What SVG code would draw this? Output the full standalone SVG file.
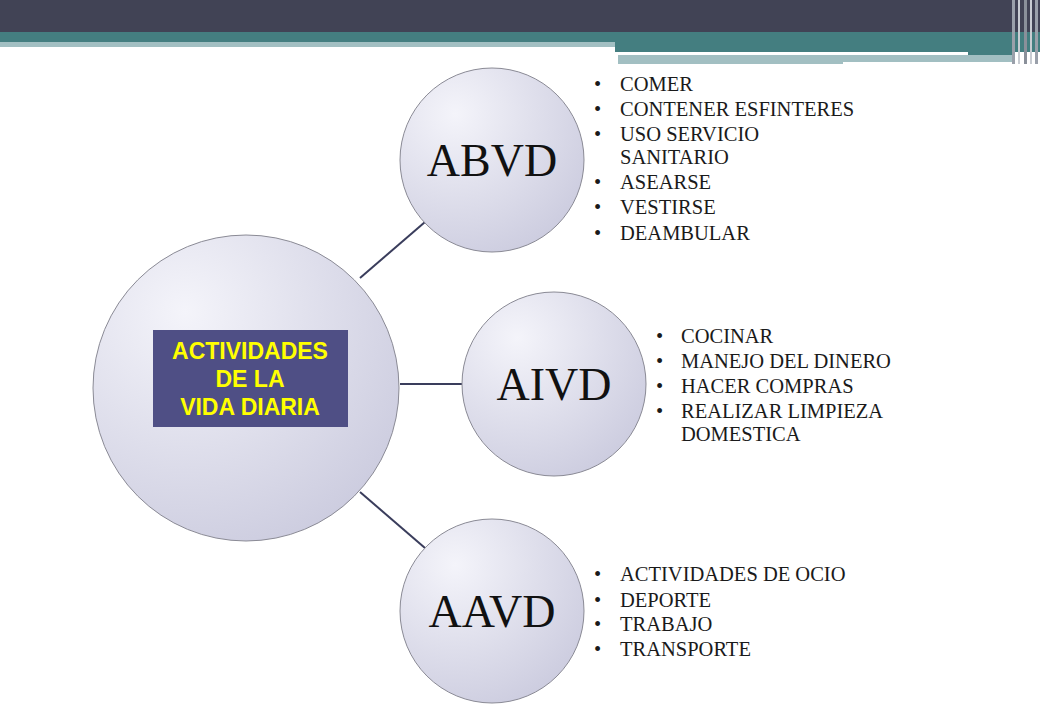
<svg xmlns="http://www.w3.org/2000/svg" width="1040" height="720" viewBox="0 0 1040 720">
<style>
.li{font-family:"Liberation Serif",serif;font-size:20.5px;fill:#1a1a1a}
.big{font-family:"Liberation Serif",serif;font-size:46px;fill:#111;text-anchor:middle}
.c{fill:url(#g);stroke:#8a8a95;stroke-width:1}
.con line{stroke:#3a3d5c;stroke-width:2}
</style>
<defs>
<radialGradient id="g" cx="0.3" cy="0.25" r="0.9">
<stop offset="0" stop-color="#f4f4fa"/><stop offset="1" stop-color="#c9c9dd"/>
</radialGradient>
</defs>
<rect width="1040" height="720" fill="#fff"/>
<g id="banner">
<rect x="0" y="0" width="1040" height="32" fill="#414355"/>
<rect x="0" y="32" width="1040" height="10" fill="#447e80"/>
<rect x="0" y="42" width="615" height="5" fill="#a2bfc2"/>
<rect x="615" y="42" width="425" height="10" fill="#447e80"/>
<rect x="618" y="52" width="350" height="3" fill="#fff"/>
<rect x="968" y="52" width="45" height="3" fill="#447e80"/>
<rect x="618" y="55" width="395" height="7" fill="#a2bfc2"/>
<rect x="618" y="62" width="225" height="2" fill="#a2bfc2"/>
<rect x="1012" y="0" width="3" height="64" fill="#9aa0aa"/>
<rect x="1018" y="0" width="2" height="64" fill="#c8ccd2"/>
<rect x="1024" y="0" width="3" height="64" fill="#8a909a"/>
<rect x="1030" y="0" width="2" height="64" fill="#c8ccd2"/>
<rect x="1035" y="0" width="3" height="64" fill="#9aa0aa"/>
</g>
<g class="con" id="connectors">
<line x1="360" y1="278" x2="425" y2="222"/>
<line x1="400" y1="384" x2="462" y2="384"/>
<line x1="360" y1="492" x2="425" y2="548"/>
</g>
<g id="center">
<circle class="c" cx="246" cy="388" r="153"/>
<rect x="153" y="330" width="195" height="97" fill="#4f4f85"/>
<text font-family="Liberation Sans,Arial,sans-serif" font-weight="bold" font-size="23" fill="#ffff00" text-anchor="middle"><tspan x="250" y="359">ACTIVIDADES</tspan><tspan x="250" y="387">DE LA</tspan><tspan x="250" y="415">VIDA DIARIA</tspan></text>
</g>
<g id="abvd">
<circle class="c" cx="492" cy="160" r="92"/>
<text class="big" x="492" y="176">ABVD</text>
<text class="li"><tspan x="594" y="91">•</tspan><tspan x="620" y="91">COMER</tspan><tspan x="594" y="116">•</tspan><tspan x="620" y="116">CONTENER ESFINTERES</tspan><tspan x="594" y="141">•</tspan><tspan x="620" y="141">USO SERVICIO</tspan><tspan x="620" y="164">SANITARIO</tspan><tspan x="594" y="189">•</tspan><tspan x="620" y="189">ASEARSE</tspan><tspan x="594" y="214">•</tspan><tspan x="620" y="214">VESTIRSE</tspan><tspan x="594" y="240">•</tspan><tspan x="620" y="240">DEAMBULAR</tspan></text>
</g>
<g id="aivd">
<circle class="c" cx="554" cy="384" r="92"/>
<text class="big" x="554" y="400">AIVD</text>
<text class="li"><tspan x="656" y="343">•</tspan><tspan x="681" y="343">COCINAR</tspan><tspan x="656" y="368">•</tspan><tspan x="681" y="368">MANEJO DEL DINERO</tspan><tspan x="656" y="393">•</tspan><tspan x="681" y="393">HACER COMPRAS</tspan><tspan x="656" y="418">•</tspan><tspan x="681" y="418">REALIZAR LIMPIEZA</tspan><tspan x="681" y="441">DOMESTICA</tspan></text>
</g>
<g id="aavd">
<circle class="c" cx="492" cy="611" r="92"/>
<text class="big" x="492" y="627">AAVD</text>
<text class="li"><tspan x="594" y="581">•</tspan><tspan x="620" y="581">ACTIVIDADES DE OCIO</tspan><tspan x="594" y="607">•</tspan><tspan x="620" y="607">DEPORTE</tspan><tspan x="594" y="631">•</tspan><tspan x="620" y="631">TRABAJO</tspan><tspan x="594" y="656">•</tspan><tspan x="620" y="656">TRANSPORTE</tspan></text>
</g>
</svg>
